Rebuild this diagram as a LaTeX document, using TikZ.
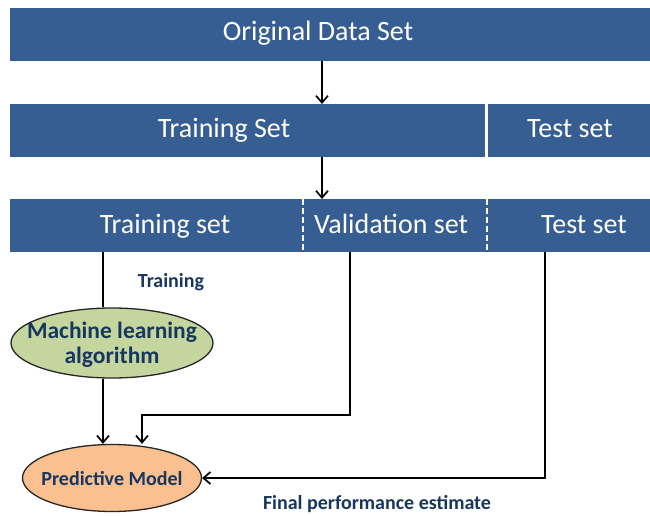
\documentclass[tikz,border=0pt]{standalone}
\usepackage{fontspec}
\setmainfont{Carlito}
\usetikzlibrary{arrows.meta,shapes.geometric}
\definecolor{boxblue}{RGB}{55,94,146}
\definecolor{navy}{RGB}{23,55,94}
\definecolor{mlgreen}{RGB}{196,214,158}
\definecolor{pmorange}{RGB}{250,192,144}
\begin{document}
\begin{tikzpicture}[x=1pt,y=-1pt,
  bar/.style={fill=boxblue, draw=none, inner sep=0pt, anchor=north west, minimum height=53pt},
  bartext/.style={text=white, font=\fontsize{28}{30}\selectfont, inner sep=0pt, anchor=base},
  conn/.style={draw=black, line width=1.9pt, -{Straight Barb[length=7pt,width=12pt,line width=1.7pt]}},
  plainline/.style={draw=black, line width=1.9pt},
  lbl/.style={text=navy, font=\bfseries\fontsize{20}{24}\selectfont, inner sep=0pt, anchor=base},
  blob/.style={ellipse, draw=black!85, line width=1.3pt, inner sep=0pt},
  blobtext/.style={text=navy, inner sep=0pt, anchor=base}]
\useasboundingbox (0,0) rectangle (650,516);
\fill[white] (0,0) rectangle (650,516);
% row 1
\node[bar, minimum width=640pt] (orig) at (10,8) {};
\node[bartext] (origt) at (318,41) {Original Data Set};
% row 2
\node[bar, minimum width=475pt] (tr2) at (10,104) {};
\node[bar, minimum width=162pt] (te2) at (488,104) {};
\node[bartext] (tr2t) at (224,137) {Training Set};
\node[bartext] (te2t) at (570,137) {Test set};
% row 3
\node[bar, minimum width=293pt] (tr3) at (10,199) {};
\node[bar, minimum width=184pt] (va3) at (303,199) {};
\node[bar, minimum width=163pt] (te3) at (487,199) {};
\draw[white, line width=2pt, dash pattern=on 6pt off 3pt] (tr3.north east) -- (tr3.south east);
\draw[white, line width=2pt, dash pattern=on 6pt off 3pt] (va3.north east) -- (va3.south east);
\node[bartext] (tr3t) at (165,233) {Training set};
\node[bartext] (va3t) at (391,233) {Validation set};
\node[bartext] (te3t) at (584,233) {Test set};
% ellipses
\node[blob, fill=mlgreen, minimum width=202pt, minimum height=70pt] (ml) at (112,343) {};
\node[blobtext, font=\bfseries\fontsize{23.5}{25}\selectfont] (mlt1) at (112,338) {Machine learning};
\node[blobtext, font=\bfseries\fontsize{23.5}{25}\selectfont] (mlt2) at (112,363) {algorithm};
\node[blob, fill=pmorange, minimum width=179pt, minimum height=67pt] (pm) at (112,478) {};
\node[blobtext, font=\bfseries\fontsize{20}{24}\selectfont] (pmt) at (112,485) {Predictive Model};
% labels
\node[lbl] (trl) at (171,287) {Training};
\node[lbl] (fpl) at (377,509) {Final performance estimate};
% coordinates
\coordinate (a1x) at (322,0);
\coordinate (mlx) at (103,0);
\coordinate (vx) at (350,0);
\coordinate (vturn) at (142,415);
\coordinate (tx) at (545,0);
% connectors
\draw[conn] (orig.south -| a1x) -- (tr2.north -| a1x);
\draw[conn] (tr2.south -| a1x) -- (tr3.north -| a1x);
\draw[plainline] (tr3.south -| mlx) -- (ml.north -| mlx);
\draw[conn] (ml.south -| mlx) -- (pm.north -| mlx);
\draw[conn] (va3.south -| vx) |- (vturn) -- (vturn |- pm.north);
\draw[conn] (te3.south -| tx) |- (pm.east);
\end{tikzpicture}
\end{document}
